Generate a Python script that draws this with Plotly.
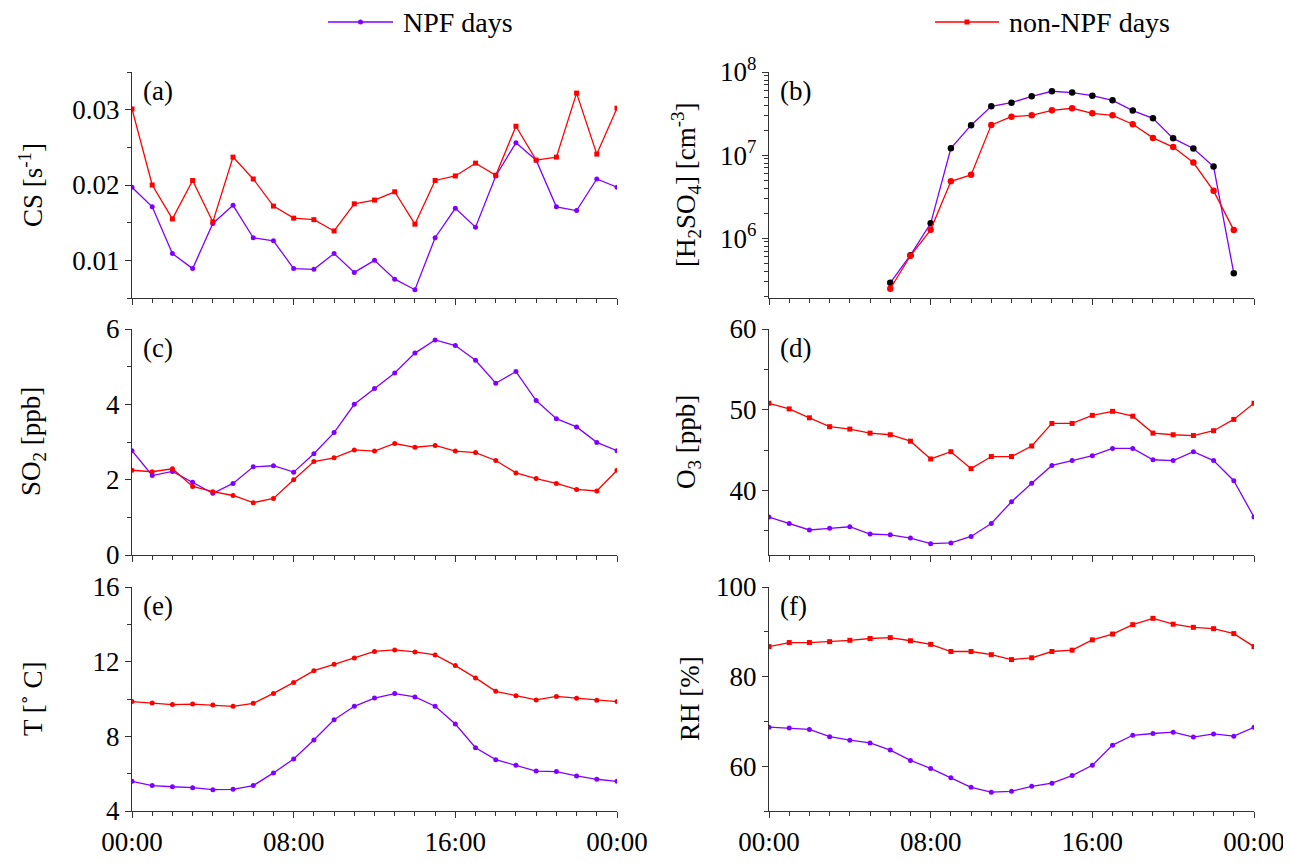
import plotly.graph_objects as go

hours = list(range(25))
hours_b = list(range(6, 24))

cs_npf = [0.0197, 0.0171, 0.0109, 0.0089, 0.0149, 0.0173, 0.0130, 0.0126, 0.0089, 0.0088, 0.0109, 0.0084, 0.0100,
          0.0075, 0.0061, 0.0130, 0.0169, 0.0144, 0.0212, 0.0256, 0.0233, 0.0171, 0.0166, 0.0208, 0.0197]
cs_non = [0.0301, 0.0200, 0.0155, 0.0206, 0.0151, 0.0237, 0.0208, 0.0172, 0.0156, 0.0154, 0.0139, 0.0175, 0.0180,
          0.0191, 0.0148, 0.0206, 0.0212, 0.0229, 0.0213, 0.0278, 0.0233, 0.0237, 0.0322, 0.0241, 0.0302]

h2so4_npf = [2.9e5, 6.25e5, 1.51e6, 1.21e7, 2.29e7, 3.86e7, 4.27e7, 5.09e7, 5.86e7, 5.65e7, 5.19e7, 4.56e7,
             3.43e7, 2.77e7, 1.59e7, 1.20e7, 7.27e6, 3.79e5]
h2so4_non = [2.46e5, 6.14e5, 1.26e6, 4.84e6, 5.78e6, 2.31e7, 2.90e7, 3.01e7, 3.46e7, 3.66e7, 3.18e7, 3.01e7,
             2.35e7, 1.61e7, 1.25e7, 8.13e6, 3.71e6, 1.25e6]

so2_npf = [2.77, 2.11, 2.22, 1.93, 1.64, 1.90, 2.34, 2.37, 2.20, 2.69, 3.25, 4.00, 4.42, 4.83, 5.36, 5.71, 5.56,
           5.17, 4.56, 4.87, 4.10, 3.62, 3.40, 2.99, 2.77]
so2_non = [2.25, 2.21, 2.29, 1.82, 1.68, 1.58, 1.39, 1.50, 2.00, 2.48, 2.58, 2.79, 2.76, 2.96, 2.86, 2.91, 2.76,
           2.72, 2.51, 2.18, 2.03, 1.90, 1.74, 1.70, 2.25]

o3_npf = [36.7, 35.9, 35.1, 35.3, 35.5, 34.6, 34.5, 34.1, 33.4, 33.5, 34.3, 35.9, 38.6, 40.9, 43.1, 43.7, 44.3,
          45.2, 45.2, 43.8, 43.7, 44.8, 43.7, 41.2, 36.7]
o3_non = [50.8, 50.1, 49.0, 47.9, 47.6, 47.1, 46.9, 46.1, 43.9, 44.8, 42.7, 44.2, 44.2, 45.5, 48.3, 48.3, 49.3,
          49.8, 49.2, 47.1, 46.9, 46.8, 47.4, 48.8, 50.8]

t_npf = [5.59, 5.36, 5.30, 5.25, 5.14, 5.16, 5.36, 6.04, 6.79, 7.80, 8.89, 9.61, 10.05, 10.29, 10.11, 9.61, 8.66,
         7.39, 6.75, 6.45, 6.14, 6.11, 5.88, 5.70, 5.59]
t_non = [9.86, 9.79, 9.70, 9.73, 9.68, 9.61, 9.77, 10.30, 10.89, 11.52, 11.86, 12.20, 12.55, 12.63, 12.52, 12.36,
         11.79, 11.13, 10.41, 10.18, 9.95, 10.14, 10.04, 9.93, 9.86]

rh_npf = [68.7, 68.5, 68.2, 66.6, 65.8, 65.2, 63.6, 61.3, 59.5, 57.4, 55.3, 54.2, 54.4, 55.5, 56.2, 57.9, 60.2,
          64.7, 66.9, 67.3, 67.6, 66.5, 67.2, 66.7, 68.7]
rh_non = [86.7, 87.6, 87.6, 87.8, 88.1, 88.5, 88.7, 88.0, 87.2, 85.6, 85.6, 84.9, 83.8, 84.2, 85.6, 85.9, 88.2,
          89.5, 91.6, 93.0, 91.7, 91.0, 90.7, 89.6, 86.7]

x_tickvals = [0, 8, 16, 24]
x_ticktext = ["00:00", "08:00", "16:00", "00:00"]
series_names = ["NPF days", "non-NPF days"]

PURPLE = "#8000FF"
RED = "#FF0000"
AX = "#333333"
FONT = "Liberation Serif"
W, H = 1291, 863
OFF = 8  # page body margin


def px(x):
    return (x - OFF) / W


def py(y):
    return 1 - (y - OFF) / H


xdom = {1: [px(132), px(617)], 2: [px(769), px(1254)]}
ydom = {1: [py(298), py(72)], 2: [py(555), py(329)], 3: [py(811), py(587)]}

fig = go.Figure()

panels = [
    # (idx, row, col, x, npf, non, red symbol, npf marker color)
    (1, 1, 1, hours, cs_npf, cs_non, "square", PURPLE),
    (2, 1, 2, hours_b, h2so4_npf, h2so4_non, "circle", "black"),
    (3, 2, 1, hours, so2_npf, so2_non, "circle", PURPLE),
    (4, 2, 2, hours, o3_npf, o3_non, "square", PURPLE),
    (5, 3, 1, hours, t_npf, t_non, "circle", PURPLE),
    (6, 3, 2, hours, rh_npf, rh_non, "square", PURPLE),
]

for idx, row, col, xs, npf, non, rsym, mcol in panels:
    sfx = "" if idx == 1 else str(idx)
    big = idx == 2
    fig.add_trace(go.Scatter(
        x=xs, y=npf, mode="lines+markers", name=series_names[0],
        line=dict(color=PURPLE, width=1.3),
        marker=dict(symbol="circle", size=6.5 if big else 5, color=mcol),
        xaxis="x" + sfx, yaxis="y" + sfx, showlegend=False))
    fig.add_trace(go.Scatter(
        x=xs, y=non, mode="lines+markers", name=series_names[1],
        line=dict(color=RED, width=1.3),
        marker=dict(symbol=rsym, size=6.5 if big else 5, color=RED),
        xaxis="x" + sfx, yaxis="y" + sfx, showlegend=False))

layout = dict(
    template="none",
    width=W, height=H,
    margin=dict(l=0, r=0, t=0, b=0, autoexpand=False),
    paper_bgcolor="white", plot_bgcolor="white",
    font=dict(family=FONT, size=27, color="black"),
    showlegend=False,
)

yspec = {
    1: dict(range=[0.005, 0.035], tickvals=[0.01, 0.02, 0.03], ticktext=["0.01", "0.02", "0.03"],
            minor=dict(tickvals=[0.005, 0.015, 0.025, 0.035])),
    2: dict(type="log", range=[5.28, 8.0], tickvals=[1e6, 1e7, 1e8],
            ticktext=["10<sup>6</sup>", "10<sup>7</sup>", "10<sup>8</sup>"],
            minor=dict(tickvals=[m * 10 ** e for e in (5, 6, 7) for m in range(2, 10)])),
    3: dict(range=[0, 6], tickvals=[0, 2, 4, 6], minor=dict(tickvals=[1, 3, 5])),
    4: dict(range=[32, 60], tickvals=[40, 50, 60], minor=dict(tickvals=[35, 45, 55])),
    5: dict(range=[4, 16], tickvals=[4, 8, 12, 16], minor=dict(tickvals=[6, 10, 14])),
    6: dict(range=[50, 100], tickvals=[60, 80, 100], minor=dict(tickvals=[50, 70, 90])),
}

for idx, row, col, *_ in panels:
    sfx = "" if idx == 1 else str(idx)
    ax_common = dict(showline=True, linecolor=AX, linewidth=1.3, showgrid=False, zeroline=False,
                     ticks="outside", tickcolor=AX, tickwidth=1.3, automargin=False)
    xa = dict(ax_common, domain=xdom[col], range=[0, 24], anchor="y" + sfx,
              tickvals=x_tickvals, ticktext=x_ticktext, ticklen=6,
              showticklabels=(row == 3),
              minor=dict(tickvals=[h for h in range(25) if h % 8], ticklen=3.5, ticks="outside",
                         tickcolor=AX, tickwidth=1.2, showgrid=False),
              tickfont=dict(size=27, family=FONT))
    ys = dict(yspec[idx])
    minor = dict(ys.pop("minor"), ticklen=4, ticks="outside", tickcolor=AX, tickwidth=1.2, showgrid=False)
    ya = dict(ax_common, domain=ydom[row], anchor="x" + sfx, ticklen=6, minor=minor,
              tickfont=dict(size=27, family=FONT), **ys)
    layout["xaxis" + sfx] = xa
    layout["yaxis" + sfx] = ya

fig.update_layout(**layout)

# panel labels
labels = ["(a)", "(b)", "(c)", "(d)", "(e)", "(f)"]
for (idx, row, col, *_), lab in zip(panels, labels):
    x0 = xdom[col][0] + 9 / W
    y1 = ydom[row][1] - 2 / H
    fig.add_annotation(text=lab, x=x0, y=y1, xref="paper", yref="paper", xanchor="left", yanchor="top",
                       showarrow=False, font=dict(size=27, family=FONT))

# y-axis titles
titles = [
    ("CS [s<sup>-1</sup>]", 31, 1),
    ("[H<sub>2</sub>SO<sub>4</sub>] [cm<sup>-3</sup>]", 686, 1),
    ("SO<sub>2</sub> [ppb]", 33, 2),
    ("O<sub>3</sub> [ppb]", 688, 2),
    ("T [˚ C]", 33, 3),
    ("RH [%]", 690, 3),
]
for text, xp, row in titles:
    fig.add_annotation(text=text, x=px(xp), y=sum(ydom[row]) / 2, xref="paper", yref="paper",
                       xanchor="center", yanchor="middle", textangle=-90, showarrow=False,
                       font=dict(size=27, family=FONT))

# legend drawn at the top (line, marker, text)
leg_y = py(22)
legend_items = [(series_names[0], PURPLE, "circle", 328, 393, 401),
                (series_names[1], RED, "rect", 935, 999, 1007)]
for name, color, mshape, lx0, lx1, tx in legend_items:
    fig.add_shape(type="line", xref="paper", yref="paper", x0=px(lx0), x1=px(lx1), y0=leg_y, y1=leg_y,
                  line=dict(color=color, width=1.6))
    cx = px((lx0 + lx1) / 2)
    fig.add_shape(type=mshape, xref="paper", yref="paper", xsizemode="pixel", ysizemode="pixel",
                  xanchor=cx, yanchor=leg_y, x0=-2.5, x1=2.5, y0=-2.5, y1=2.5,
                  fillcolor=color, line=dict(color=color, width=0))
    fig.add_annotation(text=name, x=px(tx), y=leg_y, xref="paper", yref="paper", xanchor="left",
                       yanchor="middle", showarrow=False, font=dict(size=28, family=FONT))

fig.write_html("out.html")
